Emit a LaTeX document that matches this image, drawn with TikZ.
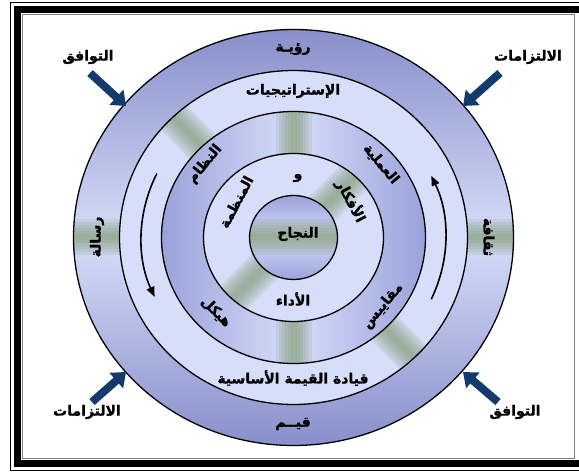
\documentclass[tikz,border=0pt]{standalone}
\usepackage{fontspec}
\newfontfamily\arabicfont[Script=Arabic, BoldFeatures={FakeBold=1.2}]{DejaVu Sans}
\TeXXeTstate=1
\usetikzlibrary{arrows.meta}

\definecolor{ringdark}{RGB}{136,143,202}
\definecolor{ringmid}{RGB}{154,162,218}
\definecolor{ringlight}{RGB}{214,222,250}
\definecolor{stripegreen}{RGB}{118,146,100}
\definecolor{arrownavy}{RGB}{18,58,108}

\newcommand{\ar}[1]{{\arabicfont\bfseries\beginR #1\endR}}
\newcommand{\softstripe}[1]{%
  \begin{scope}[shift={(c)}, rotate=#1]
    \foreach \w in {3,6,...,18}
      \fill[stripegreen, opacity=0.14] (-230,-\w) rectangle (230,\w);
  \end{scope}}

\begin{document}
\begin{tikzpicture}[x=1pt, y=-1pt,
  lbl/.style={font=\fontsize{14}{16}\selectfont, inner sep=0pt},
  ring/.style={draw=black, line width=1.3pt},
  cyclearrow/.style={line width=1.6pt, -{Triangle[length=10pt,width=8pt]}},
  pusharrow/.style={arrownavy, line width=8pt, -{Triangle[length=13pt,width=20pt]}}]
\useasboundingbox (0,0) rectangle (579,473);

% frame
\draw[line width=0.8pt] (10,2) rectangle (600,470);
\draw[line width=7pt] (17,9.5) rectangle (584,463);
\draw[gray, line width=0.8pt] (22,14.5) rectangle (574,458);

\coordinate (c) at (293.5,237.5);

% rings, outside in
\shade[top color=ringdark, bottom color=ringdark, middle color=ringlight]
  (c) ellipse [x radius=220pt, y radius=208pt];
\begin{scope}
  \clip (c) ellipse [x radius=220pt, y radius=208pt];
  \softstripe{0}
\end{scope}
\fill[ringlight] (c) ellipse [x radius=174pt, y radius=167pt];
\begin{scope}
  \clip (c) ellipse [x radius=174pt, y radius=167pt];
  \softstripe{-45}
\end{scope}
\shade[left color=ringmid, right color=ringmid, middle color=ringlight]
  (c) ellipse [x radius=132pt, y radius=126pt];
\begin{scope}
  \clip (c) ellipse [x radius=132pt, y radius=126pt];
  \softstripe{90}
\end{scope}
\fill[ringlight] (c) ellipse [x radius=90pt, y radius=84pt];
\begin{scope}
  \clip (c) ellipse [x radius=90pt, y radius=84pt];
  \softstripe{45}
\end{scope}
\shade[top color=ringmid, bottom color=ringmid, middle color=ringlight]
  (c) ellipse [x radius=44pt, y radius=42pt];
\begin{scope}
  \clip (c) ellipse [x radius=44pt, y radius=42pt];
  \softstripe{0}
\end{scope}
\foreach \rx/\ry in {220/208, 174/167, 132/126, 90/84, 44/42}
  \draw[ring] (c) ellipse [x radius=\rx pt, y radius=\ry pt];

% turning arrows
\draw[cyclearrow] (c) ++(154:152pt and 146pt)
  arc [start angle=154, end angle=204, x radius=152pt, y radius=146pt];
\draw[cyclearrow] (c) ++(-25:152pt and 146pt)
  arc [start angle=-25, end angle=25, x radius=152pt, y radius=146pt];

% ring labels
\node[lbl] (ruya) at (293,49) {\ar{رؤيـة}};
\node[lbl] (strat) at (293,91) {\ar{الإستراتيجيات}};
\node[lbl] (qiyada) at (293,378) {\ar{قيادة القيمة الأساسية}};
\node[lbl] (qiyam) at (293,424) {\ar{قيــم}};
\node[lbl, rotate=90] (risala) at (97,237) {\ar{رسالة}};
\node[lbl, rotate=-90] (thaqafa) at (489,237) {\ar{ثقافة}};
\node[lbl, rotate=50] (nizam) at (205,164) {\ar{النظام}};
\node[lbl, rotate=-50] (amaliya) at (381,164) {\ar{العملية}};
\node[lbl, rotate=-45] (haykal) at (216,312) {\ar{هيكل}};
\node[lbl, rotate=50] (maqayis) at (383,306) {\ar{مقاييس}};
\node[lbl, rotate=62] (munazzama) at (236,202) {\ar{المنظمة}};
\node[lbl] (waw) at (298,178) {\ar{و}};
\node[lbl, rotate=-62] (afkar) at (351,201) {\ar{الأفكار}};
\node[lbl] (najah) at (298,234) {\ar{النجاح}};
\node[lbl] (adaa) at (293,299) {\ar{الأداء}};

% corner labels and arrows
\node[lbl] (tawafuqA) at (88,57) {\ar{التوافق}};
\node[lbl] (iltizamA) at (528,57) {\ar{الالتزامات}};
\node[lbl] (iltizamB) at (87,412) {\ar{الالتزامات}};
\node[lbl] (tawafuqB) at (515,412) {\ar{التوافق}};
\coordinate (tlTail) at (90,73);  \coordinate (tlTip) at (126,106);
\coordinate (trTail) at (500,73); \coordinate (trTip) at (463,106);
\coordinate (blTail) at (92,402); \coordinate (blTip) at (126,372);
\coordinate (brTail) at (498,402); \coordinate (brTip) at (463,372);
\draw[pusharrow] (tlTail) -- (tlTip);
\draw[pusharrow] (trTail) -- (trTip);
\draw[pusharrow] (blTail) -- (blTip);
\draw[pusharrow] (brTail) -- (brTip);
\end{tikzpicture}
\end{document}
